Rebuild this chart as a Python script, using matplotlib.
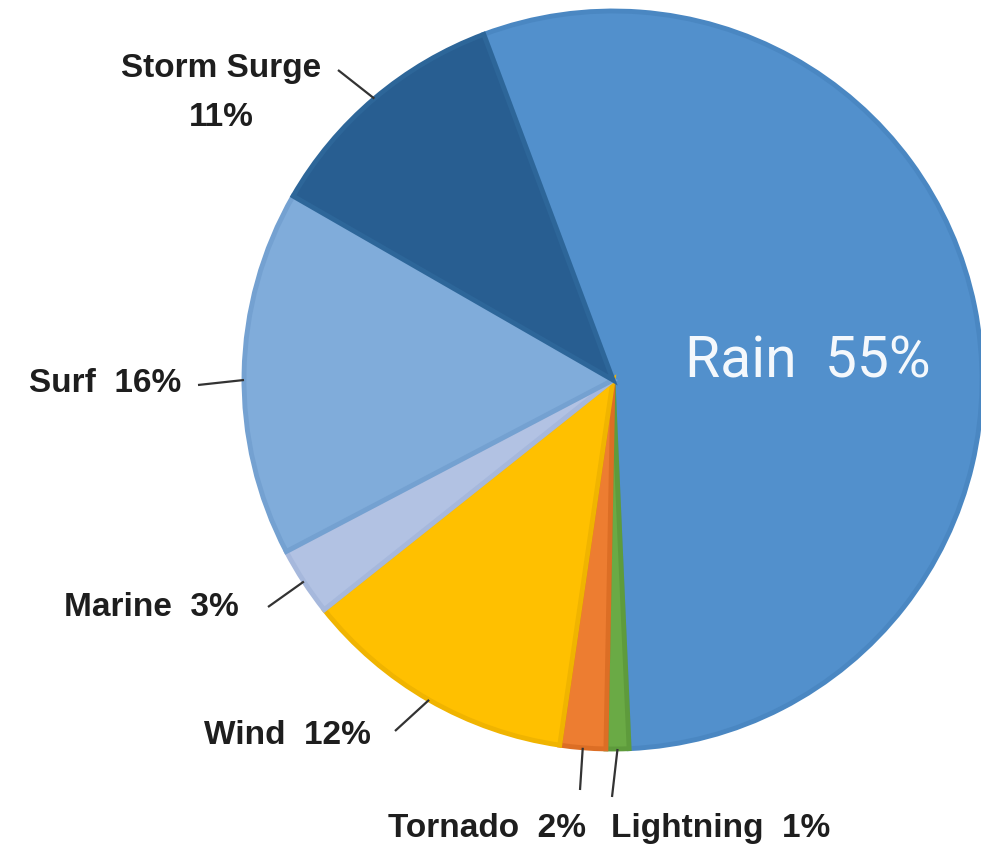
import numpy as np
import matplotlib
matplotlib.use("Agg")
import matplotlib.pyplot as plt

# data (clockwise from top)
labels = ["Rain", "Lightning", "Tornado", "Wind", "Marine", "Surf", "Storm Surge"]
values = [55, 1, 2, 12, 3, 16, 11]
colors = ["#5290CC", "#6AAA45", "#ED7D31", "#FFC000", "#B2C2E3", "#80ACDA", "#285E91"]
edges = ["#4A87C2", "#5E9B3C", "#DC6E25", "#F0B400", "#A6B8DC", "#74A1D1", "#2D6699"]

W, H = 981, 846
CX, CY, R = 613, H - 380, 369

fig = plt.figure(figsize=(W / 100, H / 100), dpi=100)
ax = fig.add_axes([0, 0, 1, 1])

wedges, _ = ax.pie(values, colors=colors, startangle=110.5, counterclock=False,
                   center=(CX, CY), radius=R, frame=True,
                   wedgeprops=dict(linewidth=3.5))
for w, ec in zip(wedges, edges):
    w.set_edgecolor(ec)
ax.set_xlim(0, W); ax.set_ylim(0, H); ax.set_aspect("equal"); ax.axis("off")

FONT = ["Liberation Sans", "DejaVu Sans"]
# label text positions (px, top-origin) and leader line outer end
lab = {
    "Storm Surge": dict(txt="Storm Surge\n11%", pos=(221, 93), ha="center", end=(338, 70)),
    "Surf": dict(txt="Surf  16%", pos=(181, 383), ha="right", end=(198, 385)),
    "Marine": dict(txt="Marine  3%", pos=(239, 607), ha="right", end=(268, 607)),
    "Wind": dict(txt="Wind  12%", pos=(371, 735), ha="right", end=(395, 731)),
    "Tornado": dict(txt="Tornado  2%", pos=(487, 828), ha="center", end=(580, 790)),
    "Lightning": dict(txt="Lightning  1%", pos=(721, 828), ha="center", end=(612, 797)),
}

for w, name in zip(wedges, labels):
    if name not in lab:
        continue
    d = lab[name]
    ang = np.deg2rad((w.theta1 + w.theta2) / 2)
    if name == "Surf":
        ang = np.pi
    px, py = CX + R * np.cos(ang), CY + R * np.sin(ang)
    ex, ey = d["end"]
    ax.plot([ex, px], [H - ey, py], color="#333333", lw=1.6, solid_capstyle="butt")
    ax.text(d["pos"][0], H - d["pos"][1], d["txt"], ha=d["ha"], va="center",
            fontsize=24, fontweight="bold", family=FONT, color="#1e1e1e",
            linespacing=1.75)

ax.text(808, H - 362, "Rain  55%", ha="center", va="center", fontsize=41,
        family=["Roboto", "DejaVu Sans"], color="#F4F8FC")

fig.savefig("out.png", dpi=100)
